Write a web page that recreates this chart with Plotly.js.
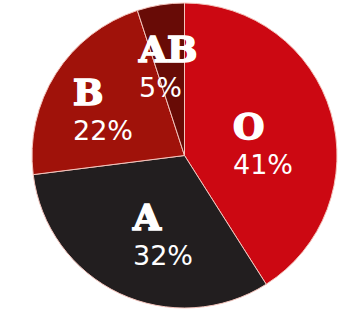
<!DOCTYPE html>
<html>
<head>
<meta charset="utf-8">
<script src="https://cdn.plot.ly/plotly-3.0.1.min.js"></script>
<style>
  html, body { margin: 0; padding: 0; background: #ffffff; }
  #chart { width: 351px; height: 315px; }
</style>
</head>
<body>
<div id="chart"></div>
<script>
// Blood type distribution
const bloodTypes = ['O', 'A', 'B', 'AB'];
const shares = [41, 32, 22, 5];
const sliceColors = ['#cc0812', '#221e1f', '#a0120a', '#680b06'];

// Label block placement per slice: fraction of radius and angular nudge (deg)
const labelRadius = [0.52, 0.53, 0.62, 0.6];
const labelNudge = [7, -9.5, -2.3, -1.5];

const W = 351, H = 315;
const margin = { l: 32, r: 14, t: 3, b: 7 };
const plotW = W - margin.l - margin.r;
const plotH = H - margin.t - margin.b;
const R = Math.min(plotW, plotH) / 2;

// Slice mid-angles, clockwise from 12 o'clock
const total = shares.reduce((a, b) => a + b, 0);
let acc = 0;
const annotations = shares.map((v, i) => {
  const mid = (acc + v / 2) / total * 360;
  acc += v;
  const th = (mid + labelNudge[i]) * Math.PI / 180;
  const r = labelRadius[i] * R;
  return {
    xref: 'paper', yref: 'paper',
    x: 0.5 + r * Math.sin(th) / plotW,
    y: 0.5 + r * Math.cos(th) / plotH,
    xanchor: 'center', yanchor: 'middle',
    align: 'left',
    showarrow: false,
    text: '<span style="font-family:DejaVu Serif;font-weight:bold;font-size:36px;' +
          'stroke:#ffffff;stroke-width:1.6px">' +
          bloodTypes[i] + '</span><br>' + v + '%',
    font: { family: 'DejaVu Sans', size: 27, color: '#ffffff' }
  };
});

const trace = {
  type: 'pie',
  labels: bloodTypes,
  values: shares,
  sort: false,
  direction: 'clockwise',
  rotation: 0,
  textinfo: 'none',
  hoverinfo: 'label+percent',
  marker: { colors: sliceColors, line: { color: '#f4c4bc', width: 1 } },
  showlegend: false
};

Plotly.newPlot('chart', [trace], {
  width: W, height: H,
  margin: margin,
  paper_bgcolor: '#ffffff',
  plot_bgcolor: '#ffffff',
  annotations: annotations
}, { staticPlot: true, displayModeBar: false });
</script>
</body>
</html>
